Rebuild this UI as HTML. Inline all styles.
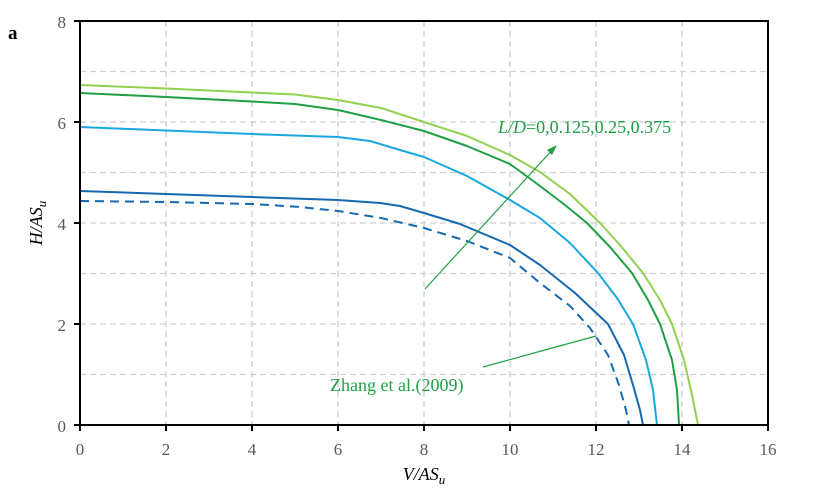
<!DOCTYPE html>
<html><head><style>body{margin:0;background:#fff}svg{display:block}</style></head><body>
<svg width="818" height="490" viewBox="0 0 818 490" xmlns="http://www.w3.org/2000/svg" font-family="Liberation Serif, serif">
<g stroke="#d0d0d0" stroke-width="1.3" stroke-dasharray="6,4" fill="none">
<path d="M166 21V425M252 21V425M338 21V425M424 21V425M510 21V425M596 21V425M682 21V425"/>
<path d="M80 71.5H768M80 122H768M80 172.5H768M80 223H768M80 273.5H768M80 324H768M80 374.5H768"/>
</g>
<g fill="none" stroke-width="2" stroke-linejoin="round">
<polyline stroke="#92d050" points="80,85 166,88.5 252,92.5 295,94.5 338,100 381,108 424,122 467,136 510,155 540,172 570,194 600,223 620,245 643,273 660,300 672,324 684,360 692,395 698,425"/>
<polyline stroke="#1fa045" points="80,93 166,97 252,101.5 295,104 338,110 381,120 424,131 467,146 510,164 540,186 565,205 587,223 610,247 632,273 648,300 660,324 672,360 677,390 679,425"/>
<polyline stroke="#1aa8e0" points="80,127 166,130.5 252,134 338,137 370,141 400,150 424,157 467,176 510,200 540,218 570,243 598,273 617,298 633,324 646,360 653,390 657,425"/>
<polyline stroke="#1668b0" points="80,191 166,194 252,197 338,200 380,203 400,206 424,213 460,224 510,245 540,265 575,293 608,324 624,355 633,385 640,410 643,425"/>
<polyline stroke="#1668b0" stroke-dasharray="9,6" points="80,201 166,202 252,204 300,207 338,211 381,218 424,228 467,241 510,258 540,283 570,306 590,328 608,355 619,385 626,410 629,425"/>
</g>
<rect x="80" y="21" width="688" height="404" fill="none" stroke="#000" stroke-width="2"/>
<g stroke="#000" stroke-width="2"><path d="M74 21H80M74 122H80M74 223H80M74 324H80M74 425H80M80 425V431M166 425V431M252 425V431M338 425V431M424 425V431M510 425V431M596 425V431M682 425V431M768 425V431"/></g>
<g fill="#595959" font-size="17">
<g text-anchor="end"><text x="66" y="28">8</text><text x="66" y="129">6</text><text x="66" y="230">4</text><text x="66" y="331">2</text><text x="66" y="432">0</text></g>
<g text-anchor="middle"><text x="80" y="455">0</text><text x="166" y="455">2</text><text x="252" y="455">4</text><text x="338" y="455">6</text><text x="424" y="455">8</text><text x="510" y="455">10</text><text x="596" y="455">12</text><text x="682" y="455">14</text><text x="768" y="455">16</text></g>
</g>
<text x="8" y="39" font-size="19" font-weight="bold">a</text>
<text x="424" y="480" font-size="18" font-style="italic" text-anchor="middle">V/AS<tspan font-size="13" dy="4">u</tspan></text>
<text transform="translate(42,223) rotate(-90)" font-size="18" font-style="italic" text-anchor="middle">H/AS<tspan font-size="13" dy="4">u</tspan></text>
<g stroke="#1fa045" stroke-width="1.2"><path d="M425 289L555 147"/><path d="M483 367L596 336"/></g>
<path d="M557 145L547 150L552 155Z" fill="#1fa045"/>
<text x="498" y="133" font-size="18" fill="#1fa045"><tspan font-style="italic">L/D</tspan>=0,0.125,0.25,0.375</text>
<text x="330" y="391" font-size="18" fill="#1fa045">Zhang et al.(2009)</text>
</svg>
</body></html>
